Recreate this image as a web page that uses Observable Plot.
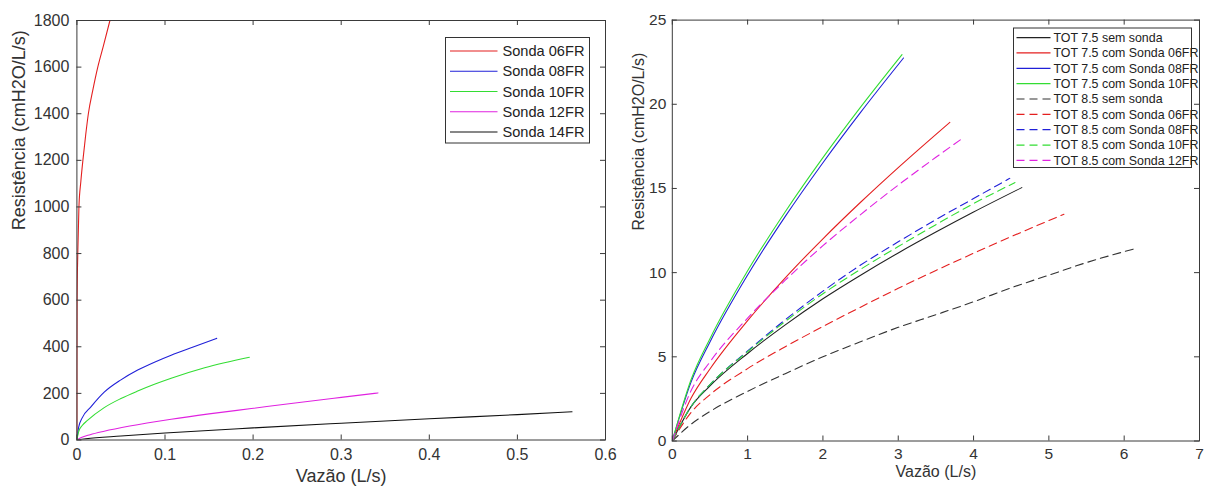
<!DOCTYPE html>
<html><head><meta charset="utf-8">
<script src="https://cdn.jsdelivr.net/npm/d3@7"></script>
<script src="https://cdn.jsdelivr.net/npm/@observablehq/plot@0.6"></script>
<style>
body{margin:0;background:#fff;font-family:"Liberation Sans",Arial,Helvetica,sans-serif;}
#wrap{position:relative;width:1205px;height:489px;overflow:hidden;background:#fff;}
#left,#right,#legend{position:absolute;top:0;}
#left{left:0}
#right{left:620px}
#legend{left:0;pointer-events:none}
</style></head><body>
<div id="wrap"><div id="left"></div><div id="right"></div><svg id="legend" width="1205" height="489"></svg></div>
<script>
// ---------------- DATA ----------------
// Left panel: Resistência vs Vazão for each catheter
const leftNames = ["Sonda 06FR", "Sonda 08FR", "Sonda 10FR", "Sonda 12FR", "Sonda 14FR"];
const q06 = [0, 0.00002, 0.0002, 0.001, 0.0023, 0.0045, 0.0068, 0.01, 0.013, 0.018, 0.0237, 0.03, 0.0375];
const r06 = [0, 300, 600, 800, 1000, 1110, 1200, 1310, 1400, 1500, 1600, 1690, 1800];
const q08 = [0, 0.002, 0.006, 0.0159, 0.031, 0.05, 0.069, 0.088, 0.107, 0.132, 0.1587];
const r08 = [0, 55, 95, 142, 205, 258, 300, 334, 364, 399, 436];
const q10 = [0, 0.002, 0.006, 0.012, 0.031, 0.05, 0.069, 0.088, 0.107, 0.145, 0.1958];
const r10 = [0, 36, 62, 84, 139, 178, 210, 239, 265, 310, 355];
const q12 = [0, 0.005, 0.015, 0.031, 0.06, 0.107, 0.15, 0.198, 0.25, 0.3, 0.3417];
const r12 = [0, 10.5, 22.7, 37.6, 59.8, 89, 112, 135, 160, 183, 202];
const q14 = [0, 0.01, 0.05, 0.1, 0.2, 0.3, 0.4, 0.5, 0.562];
const r14 = [0, 5, 17, 30, 52, 72, 91, 109, 121];
const leftQ = [q06, q08, q10, q12, q14];
const leftR = [r06, r08, r10, r12, r14];

// Right panel: endotracheal tubes with / without catheter
const rightNames = ["TOT 7.5 sem sonda", "TOT 7.5 com Sonda 06FR", "TOT 7.5 com Sonda 08FR", "TOT 7.5 com Sonda 10FR",
  "TOT 8.5 sem sonda", "TOT 8.5 com Sonda 06FR", "TOT 8.5 com Sonda 08FR", "TOT 8.5 com Sonda 10FR", "TOT 8.5 com Sonda 12FR"];
const qA = [0, 0.25, 0.5, 1, 1.5, 2, 2.5, 3, 3.5, 4, 4.64];
const rA = [0, 2.04, 3.27, 5.2, 6.9, 8.45, 9.85, 11.17, 12.41, 13.6, 15.05];
const qB = [0, 0.25, 0.5, 1, 1.5, 2, 2.5, 3, 3.685];
const rB = [0, 2.55, 4.28, 7.15, 9.69, 12.01, 14.18, 16.24, 18.93];
const qC = [0, 0.25, 0.5, 1, 1.5, 2, 2.5, 3.07];
const rC = [0, 3.51, 5.88, 9.86, 13.34, 16.53, 19.52, 22.75];
const qD = [0, 0.25, 0.5, 1, 1.5, 2, 2.5, 3.05];
const rD = [0, 3.65, 6.08, 10.11, 13.62, 16.83, 19.83, 22.95];
const qE = [0, 0.25, 0.5, 1, 1.5, 2, 2.5, 3, 3.5, 4, 4.5, 5, 5.5, 6.14];
const rE = [0, 1.0, 1.75, 2.95, 4.0, 5.0, 5.9, 6.75, 7.5, 8.27, 9.1, 9.85, 10.6, 11.42];
const qF = [0, 0.25, 0.5, 1, 1.5, 2, 2.5, 3, 3.5, 4, 4.5, 5.2];
const rF = [0, 1.7, 2.75, 4.3, 5.6, 6.8, 7.95, 9.07, 10.13, 11.15, 12.14, 13.47];
const qG = [0, 0.25, 0.5, 1, 1.5, 2, 2.5, 3, 3.5, 4, 4.48];
const rG = [0, 2.05, 3.35, 5.35, 7.2, 8.9, 10.45, 11.83, 13.15, 14.4, 15.6];
const qH = [0, 0.25, 0.5, 1, 1.5, 2, 2.5, 3, 3.5, 4, 4.55];
const rH = [0, 2.05, 3.35, 5.3, 7.1, 8.75, 10.2, 11.55, 12.85, 14.1, 15.35];
const qI = [0, 0.25, 0.5, 1, 1.5, 2, 2.5, 3, 3.5, 3.86];
const rI = [0, 3.0, 4.7, 7.3, 9.55, 11.6, 13.45, 15.2, 16.85, 18.0];
const rightQ = [qA, qB, qC, qD, qE, qF, qG, qH, qI];
const rightR = [rA, rB, rC, rD, rE, rF, rG, rH, rI];

// Tick values
const leftXTicks = [0, 0.1, 0.2, 0.3, 0.4, 0.5, 0.6];
const leftYTicks = [0, 200, 400, 600, 800, 1000, 1200, 1400, 1600, 1800];
const rightXTicks = [0, 1, 2, 3, 4, 5, 6, 7];
const rightYTicks = [0, 5, 10, 15, 20, 25];

const xTitle = "Vazão (L/s)";
const yTitle = "Resistência (cmH2O/L/s)";

// ---------------- STYLES ----------------
const RED = "#e41f1f", BLUE = "#2020d8", GREEN = "#33dd33", MAG = "#e022e0", BLK = "#111111";
const leftColors = [RED, BLUE, GREEN, MAG, BLK];
const rightColors = ["#222222", RED, BLUE, GREEN, "#333333", RED, BLUE, GREEN, MAG];
const rightDash = [null, null, null, null, "8,5", "8,5", "8,5", "8,5", "8,5"];
const FONT = '"Liberation Sans", Arial, Helvetica, sans-serif';
const AX = "#3a3a3a";

function toRows(qs, rs) {
  return qs.map((q, i) => q.map((v, j) => ({q: v, r: rs[i][j]})));
}

function panel(o) {
  const plotW = o.width - o.mL - o.mR;
  const plotH = o.height - o.mT - o.mB;
  const rows = toRows(o.Q, o.R);
  const fmt = d => String(d);
  return Plot.plot({
    width: o.width, height: o.height,
    marginLeft: o.mL, marginRight: o.mR, marginTop: o.mT, marginBottom: o.mB,
    style: {fontFamily: FONT, fontSize: o.tickFont + "px", color: "#333", background: "transparent", overflow: "visible"},
    x: {domain: o.xDomain},
    y: {domain: o.yDomain},
    marks: [
      ...rows.map((d, i) => Plot.line(d, {x: "q", y: "r", stroke: o.colors[i], strokeWidth: 1.1,
        strokeDasharray: o.dash ? o.dash[i] : null, curve: "monotone-x", clip: true})),
      Plot.frame({stroke: AX, strokeWidth: 1}),
      Plot.tickX(o.xTicks, {x: d => d, insetTop: plotH - 5, stroke: AX}),
      Plot.tickX(o.xTicks, {x: d => d, insetBottom: plotH - 5, stroke: AX}),
      Plot.tickY(o.yTicks, {y: d => d, insetRight: plotW - 5, stroke: AX}),
      Plot.tickY(o.yTicks, {y: d => d, insetLeft: plotW - 5, stroke: AX}),
      Plot.axisX(o.xTicks, {tickSize: 0, tickPadding: o.xPad, tickFormat: fmt, label: null, fontSize: o.tickFont, fill: "#333"}),
      Plot.axisY(o.yTicks, {tickSize: 0, tickPadding: o.yPad, tickFormat: fmt, label: null, fontSize: o.tickFont, fill: "#333"}),
      Plot.text([xTitle], {text: d => d, frameAnchor: "bottom", dy: o.xTitleDy, fontSize: o.titleFont, fill: "#333"}),
      Plot.text([yTitle], {text: d => d, frameAnchor: "left", dx: o.yTitleDx, rotate: -90, fontSize: o.titleFont, fill: "#333"})
    ]
  });
}

document.getElementById("left").append(panel({
  Q: leftQ, R: leftR, colors: leftColors, dash: null,
  width: 620, height: 489, mL: 76.4, mR: 15, mT: 20, mB: 49.5,
  xDomain: [0, 0.6], yDomain: [0, 1800], xTicks: leftXTicks, yTicks: leftYTicks,
  tickFont: 16, titleFont: 18, xPad: 9, yPad: 7.5, xTitleDy: 42, yTitleDx: -58
}));

document.getElementById("right").append(panel({
  Q: rightQ, R: rightR, colors: rightColors, dash: rightDash,
  width: 585, height: 489, mL: 51.8, mR: 6, mT: 19.6, mB: 48.5,
  xDomain: [0, 7], yDomain: [0, 25], xTicks: rightXTicks, yTicks: rightYTicks,
  tickFont: 15.5, titleFont: 16, xPad: 7, yPad: 6, xTitleDy: 36, yTitleDx: -33
}));

// ---------------- LEGENDS ----------------
const lg = d3.select("#legend");
function legend(names, colors, dash, box, row0, step, lx0, lx1, tx, fs) {
  lg.append("rect").attr("x", box[0]).attr("y", box[1]).attr("width", box[2]).attr("height", box[3])
    .attr("fill", "#fff").attr("stroke", "#333").attr("stroke-width", 1);
  names.forEach((n, i) => {
    const y = row0 + i * step;
    lg.append("line").attr("x1", lx0).attr("x2", lx1).attr("y1", y).attr("y2", y)
      .attr("stroke", colors[i]).attr("stroke-width", 1.2)
      .attr("stroke-dasharray", dash && dash[i] ? dash[i] : null);
    lg.append("text").attr("x", tx).attr("y", y).attr("dy", "0.35em")
      .attr("font-family", FONT).attr("font-size", fs).attr("fill", "#222").text(n);
  });
}
legend(leftNames, leftColors, null, [445.5, 37.5, 144, 105.5], 51, 20.25, 450, 497.5, 502.5, 14.6);
legend(rightNames, rightColors, rightDash, [1013.5, 28, 178, 139.5], 37.6, 15.35, 1016.5, 1050.5, 1053.5, 12.4);
</script></body></html>
